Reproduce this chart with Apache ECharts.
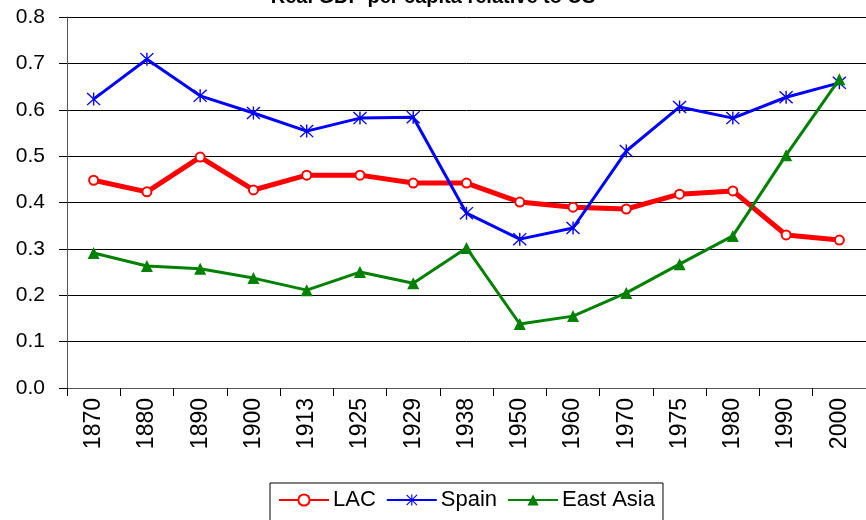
<!DOCTYPE html>
<html>
<head>
<meta charset="utf-8">
<script src="https://cdn.jsdelivr.net/npm/echarts@6/dist/echarts.min.js"></script>
<style>html,body{margin:0;padding:0;background:#fff}#c{width:866px;height:520px}</style>
</head>
<body>
<div id="c"></div>
<script>
const years = ['1870','1880','1890','1900','1913','1925','1929','1938','1950','1960','1970','1975','1980','1990','2000'];
const lac = [0.448,0.423,0.498,0.427,0.459,0.459,0.442,0.442,0.401,0.390,0.386,0.418,0.425,0.330,0.319];
const spain = [0.623,0.709,0.630,0.593,0.554,0.582,0.584,0.377,0.321,0.345,0.511,0.606,0.582,0.627,0.658];
const eastAsia = [0.291,0.263,0.257,0.237,0.211,0.250,0.226,0.302,0.138,0.155,0.205,0.267,0.328,0.502,0.666];
const titleText = 'Real GDP per capita relative to US';

const asterisk = 'path://M9 0L11 0L11 20L9 20Z M1.4 0L20 18.6L18.6 20L0 1.4Z M18.6 0L20 1.4L1.4 20L0 18.6Z';
const font = '"Liberation Sans", Arial, sans-serif';
const chart = echarts.init(document.getElementById('c'), null, {renderer: 'canvas'});
chart.setOption({
  animation: false,
  backgroundColor: '#fff',
  textStyle: {fontFamily: font},
  title: {text: titleText, left: 'center', top: -18, textStyle: {fontFamily: font, fontSize: 20, fontWeight: 'bold', color: '#000'}},
  grid: {left: 67, top: 17, right: -3, bottom: 132, containLabel: false},
  legend: {
    left: 270, top: 483, padding: [6, 8, 10, 8], itemGap: 10, itemWidth: 50, itemHeight: 14,
    borderColor: '#000', borderWidth: 1,
    textStyle: {fontFamily: font, fontSize: 22, color: '#000', padding: [0, 0, 0, -1]},
    data: ['LAC', 'Spain', 'East Asia']
  },
  xAxis: {
    type: 'category', data: years, boundaryGap: true,
    axisLine: {lineStyle: {color: '#555', width: 1}},
    axisTick: {show: true, length: 8, alignWithLabel: false, lineStyle: {color: '#000'}},
    axisLabel: {rotate: 90, margin: 10, fontSize: 23, color: '#000', fontFamily: font, interval: 0}
  },
  yAxis: {
    type: 'value', min: 0, max: 0.8, interval: 0.1,
    axisLine: {show: true, lineStyle: {color: '#555', width: 1}},
    axisTick: {show: true, length: 8, lineStyle: {color: '#000'}},
    axisLabel: {margin: 22, fontSize: 21, color: '#000', fontFamily: font, formatter: v => v.toFixed(1)},
    splitLine: {show: true, lineStyle: {color: '#000', width: 1}}
  },
  series: [
    {name: 'LAC', type: 'line', data: lac, color: '#ff0000', lineStyle: {width: 5, color: '#ff0000'},
     symbol: 'emptyCircle', symbolSize: 9, itemStyle: {color: '#ff0000', borderColor: '#ff0000', borderWidth: 2}, z: 3},
    {name: 'Spain', type: 'line', data: spain, color: '#0000ff', lineStyle: {width: 3, color: '#0000ff'},
     symbol: asterisk, symbolSize: [14, 13], itemStyle: {color: '#0000ff'}, z: 4},
    {name: 'East Asia', type: 'line', data: eastAsia, color: '#008000', lineStyle: {width: 3, color: '#008000'},
     symbol: 'triangle', symbolSize: 12, itemStyle: {color: '#008000'}, z: 5}
  ]
});
</script>
</body>
</html>
